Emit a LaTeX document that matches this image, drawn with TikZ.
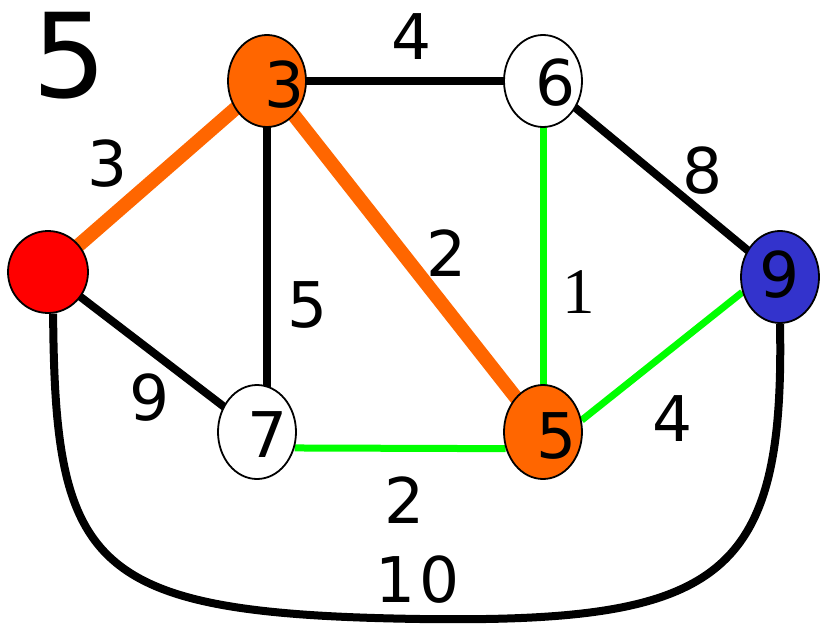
\documentclass[tikz,border=0pt]{standalone}
\usepackage{fontspec}
\setmainfont{DejaVu Sans}
\newfontfamily\serifnum{Liberation Serif}
\usetikzlibrary{shapes.geometric}
\definecolor{myorange}{RGB}{255,102,0}
\definecolor{myblue}{RGB}{51,51,204}
\definecolor{mygreen}{RGB}{0,255,0}
\pgfdeclarelayer{bg}
\pgfsetlayers{bg,main}
\begin{document}
\begin{tikzpicture}[x=1pt,y=-1pt,
  vert/.style={ellipse, draw=black, line width=1.8pt, minimum width=78pt, minimum height=92pt, inner sep=0pt},
  num/.style={inner sep=0pt, font=\fontsize{63}{63}\selectfont},
  blackedge/.style={draw=black, line width=8pt},
  greenedge/.style={draw=mygreen, line width=7pt},
  orangeedge/.style={draw=myorange, line width=14pt}]
\useasboundingbox (0,0) rectangle (820,626);
% vertices
\node[vert, fill=red, minimum width=80pt, minimum height=82pt] (nr) at (48,272) {};
\node[vert, fill=myorange] (n3) at (267,81) {};
\node[vert, fill=white] (n6) at (543,81) {};
\node[vert, fill=myblue] (n9) at (780,277) {};
\node[vert, fill=white, minimum height=94pt] (n7) at (257,432) {};
\node[vert, fill=myorange, minimum height=94pt] (n5) at (543,432) {};
% vertex texts
\node[num] (t3) at (285,85) {3};
\node[num] (t6) at (556,83) {6};
\node[num] (t9) at (780,275) {9};
\node[num] (t7) at (268,435) {7};
\node[num] (t5) at (557,436) {5};
% big number
\node[inner sep=0pt, font=\fontsize{117}{117}\selectfont] (big) at (70,56) {5};
% edge labels
\node[num] (w36) at (412,37) {4};
\node[num] (wr3) at (108,164) {3};
\node[num] (w69) at (703,171) {8};
\node[num] (w35) at (447,253) {2};
\node[inner sep=0pt, font=\serifnum\fontsize{65}{65}\selectfont] (w65) at (579,292) {1};
\node[num] (w37) at (308,305) {5};
\node[num] (wr7) at (150,398) {9};
\node[num] (w59) at (673,419) {4};
\node[num] (w75) at (405,500) {2};
\node[num] (wr9) at (418,580) {1\kern4pt0};
% edges
\begin{pgfonlayer}{bg}
\draw[orangeedge] (nr.center) -- (n3.center);
\draw[orangeedge] (n3.center) -- (n5.center);
\draw[blackedge] (n3.center) -- (n6.center);
\draw[blackedge] (n3.center) -- (n3.center |- n7.center);
\draw[blackedge] (nr.center) -- (n7.center);
\draw[blackedge] (n6.center) -- (n9.center);
\draw[greenedge] (n6.center) -- (n5.center);
\draw[greenedge] (n5.17) -- (n9.-158);
\draw[greenedge] (n7.-23.6) -- (n5.-156.4);
\draw[blackedge] (nr.-83) .. controls (55,570) and (90,614) .. (420,619)
  .. controls (720,623) and (785,580) .. (n9.south);
\end{pgfonlayer}
\end{tikzpicture}
\end{document}
